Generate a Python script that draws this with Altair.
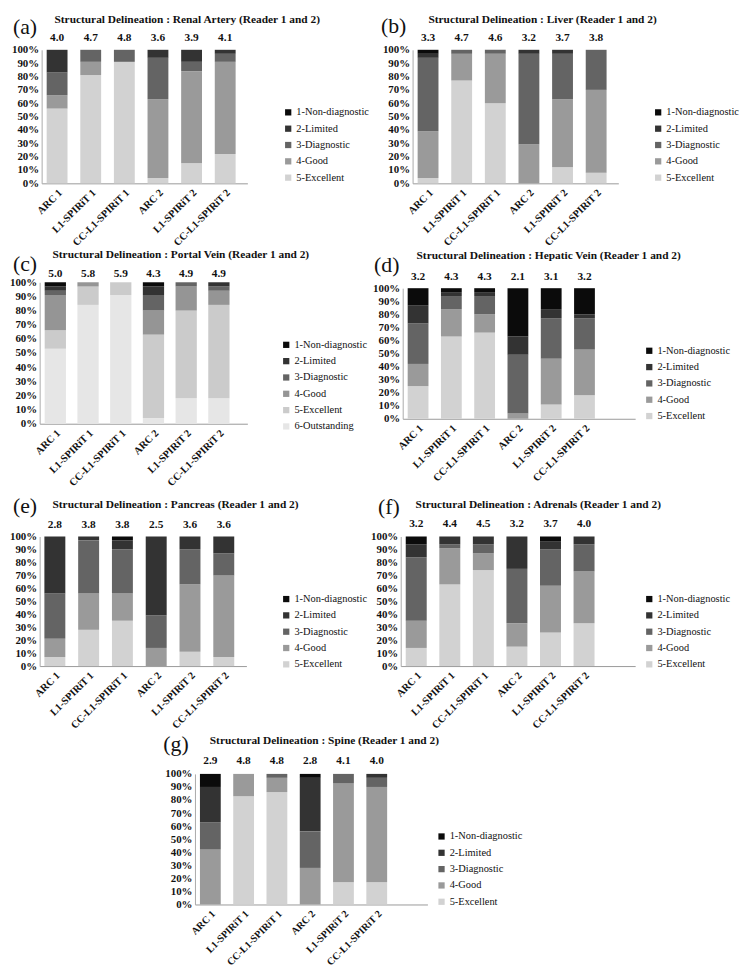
import altair as alt
import pandas as pd

FONT = "Liberation Serif"

cats = ["ARC 1", "L1-SPIRiT 1", "CC-L1-SPIRiT 1", "ARC 2", "L1-SPIRiT 2", "CC-L1-SPIRiT 2"]
grades5 = ["1-Non-diagnostic", "2-Limited", "3-Diagnostic", "4-Good", "5-Excellent"]
grades6 = ["1-Non-diagnostic", "2-Limited", "3-Diagnostic", "4-Good", "5-Excellent", "6-Outstanding"]
colors5 = ["#0b0b0b", "#333333", "#646464", "#9a9a9a", "#d2d2d2"]
colors6 = ["#0b0b0b", "#333333", "#646464", "#959595", "#cbcbcb", "#e6e6e6"]

# percentages per category, listed from the bottom segment (best grade) to the top (worst grade)
renal_vals = [[56, 10, 17, 17, 0], [81, 10, 9, 0, 0], [91, 0, 9, 0, 0],
              [4, 59, 31, 6, 0], [15, 69, 7, 9, 0], [22, 69, 6, 3, 0]]
renal_scores = ["4.0", "4.7", "4.8", "3.6", "3.9", "4.1"]

liver_vals = [[4, 35, 55, 3, 3], [77, 20, 3, 0, 0], [60, 37, 3, 0, 0],
              [0, 29, 68, 3, 0], [12, 51, 34, 3, 0], [8, 62, 30, 0, 0]]
liver_scores = ["3.3", "4.7", "4.6", "3.2", "3.7", "3.8"]

portal_vals = [[53, 13, 25, 3, 3, 3], [84, 13, 3, 0, 0, 0], [91, 9, 0, 0, 0, 0],
               [4, 59, 17, 11, 6, 3], [18, 62, 17, 3, 0, 0], [18, 66, 10, 3, 3, 0]]
portal_scores = ["5.0", "5.8", "5.9", "4.3", "4.9", "4.9"]

hepatic_vals = [[25, 17, 31, 14, 13], [63, 21, 10, 3, 3], [66, 14, 14, 3, 3],
                [0, 4, 45, 14, 37], [11, 35, 31, 7, 16], [18, 35, 24, 3, 20]]
hepatic_scores = ["3.2", "4.3", "4.3", "2.1", "3.1", "3.2"]

pancreas_vals = [[7, 14, 35, 44, 0], [28, 28, 41, 3, 0], [35, 21, 34, 7, 3],
                 [0, 14, 25, 61, 0], [11, 52, 27, 10, 0], [7, 63, 17, 13, 0]]
pancreas_scores = ["2.8", "3.8", "3.8", "2.5", "3.6", "3.6"]

adrenal_vals = [[14, 21, 49, 10, 6], [63, 28, 3, 6, 0], [74, 13, 7, 6, 0],
                [15, 18, 42, 25, 0], [26, 36, 28, 6, 4], [33, 40, 21, 6, 0]]
adrenal_scores = ["3.2", "4.4", "4.5", "3.2", "3.7", "4.0"]

spine_vals = [[0, 42, 21, 27, 10], [83, 17, 0, 0, 0], [86, 11, 3, 0, 0],
              [0, 28, 28, 41, 3], [17, 76, 7, 0, 0], [17, 73, 7, 3, 0]]
spine_scores = ["2.9", "4.8", "4.8", "2.8", "4.1", "4.0"]


def panel(letter, title, values, scores, grades, colors,
          ox, oy, pw, ph, vw, pi, po, al, lpos, tpos, sy, lgx=244, xfs=10.5):
    n = len(grades)
    rows = []
    for ci, cat in enumerate(cats):
        for k, v in enumerate(values[ci]):
            if v > 0:
                rows.append({"cat": cat, "grade": grades[n - 1 - k], "value": v, "ord": k})
    df = pd.DataFrame(rows)
    sdf = pd.DataFrame({"cat": cats, "score": scores})

    xscale = alt.Scale(domain=cats, range=[ox, ox + pw], paddingInner=pi,
                       paddingOuter=po, align=al)
    bars = alt.Chart(df).mark_bar().encode(
        x=alt.X("cat:N", scale=xscale, title=None,
                axis=alt.Axis(labelAngle=-45, labelAlign="right", labelBaseline="top",
                              labelFont=FONT, labelFontWeight="bold", labelFontSize=xfs,
                              labelColor="#111111", labelPadding=4, ticks=False,
                              domainColor="#999999", labelOverlap=False, grid=False)),
        y=alt.Y("value:Q", stack="zero", title=None,
                scale=alt.Scale(domain=[0, 100], range=[oy + ph, oy], nice=False),
                axis=alt.Axis(values=list(range(0, 101, 10)), labelExpr="datum.value + '%'",
                              offset=-ox, labelFont=FONT, labelFontWeight="bold",
                              labelFontSize=11, labelColor="#111111", labelPadding=3,
                              ticks=False, grid=False, domainColor="#aaaaaa",
                              labelOverlap=False)),
        color=alt.Color("grade:N", scale=alt.Scale(domain=grades, range=colors),
                        legend=alt.Legend(orient="none", legendX=ox + lgx, legendY=oy + 58,
                                          title=None, symbolType="square", symbolSize=40,
                                          symbolStrokeWidth=0, labelFont=FONT,
                                          labelFontSize=10.5, labelColor="#111111",
                                          rowPadding=5.5, padding=0, labelOffset=3)),
        order=alt.Order("ord:Q", sort="ascending"),
    )
    score_text = alt.Chart(sdf).mark_text(
        font=FONT, fontWeight="bold", fontSize=11.5, color="#111111", baseline="middle"
    ).encode(x=alt.X("cat:N", scale=xscale, title=None), y=alt.value(oy + sy), text="score:N")
    letter_text = alt.Chart(pd.DataFrame({"t": [letter]})).mark_text(
        font=FONT, fontSize=22, color="#111111", align="left", baseline="middle"
    ).encode(x=alt.value(ox + lpos[0]), y=alt.value(oy + lpos[1]), text="t:N")
    title_text = alt.Chart(pd.DataFrame({"t": [title]})).mark_text(
        font=FONT, fontSize=11.5, fontWeight="bold", color="#111111", align="left",
        baseline="middle"
    ).encode(x=alt.value(ox + tpos[0]), y=alt.value(oy + tpos[1]), text="t:N")
    return alt.layer(bars, score_text, letter_text, title_text).properties(
        width=vw, height=oy + ph)


pa = panel("(a)", "Structural Delineation : Renal Artery (Reader 1 and 2)", renal_vals,
           renal_scores, grades5, colors5, 2, 0, 208, 135, 365, 0.38, 0.25, 0.3,
           (-29, -23), (13, -30), -12)
pb = panel("(b)", "Structural Delineation : Liver (Reader 1 and 2)", liver_vals,
           liver_scores, grades5, colors5, 12, 0, 208, 135, 335, 0.38, 0.25, 0.3,
           (-32, -24), (16, -30), -12, lgx=243)
pc = panel("(c)", "Structural Delineation : Portal Vein (Reader 1 and 2)", portal_vals,
           portal_scores, grades6, colors6, 0, 0, 210, 143, 365, 0.35, 0.35, 0.22,
           (-27, -18), (13, -28), -8)
pd_ = panel("(d)", "Structural Delineation : Hepatic Vein (Reader 1 and 2)", hepatic_vals,
            hepatic_scores, grades5, colors5, 2, 6, 235, 132, 335, 0.375, 0.68, 0.11,
            (-29, -23), (14, -33), -11, lgx=244)
pe = panel("(e)", "Structural Delineation : Pancreas (Reader 1 and 2)", pancreas_vals,
           pancreas_scores, grades5, colors5, 0, 14, 209, 131, 365, 0.38, 0.25, 0.28,
           (-27, -31), (13, -32), -12)
pf = panel("(f)", "Structural Delineation : Adrenals (Reader 1 and 2)", adrenal_vals,
           adrenal_scores, grades5, colors5, 0, 14, 237, 131, 335, 0.375, 0.68, 0.11,
           (-23, -30), (15, -32), -13, lgx=246)
pg = panel("(g)", "Structural Delineation : Spine (Reader 1 and 2)", spine_vals,
           spine_scores, grades5, colors5, 157, 9, 235, 132, 365, 0.375, 0.68, 0.11,
           (-32, -30), (15, -33), -13, xfs=10.2)

chart = alt.concat(pa, pb, pc, pd_, pe, pf, pg, columns=2,
                   spacing=alt.RowColnumber(row=100, column=0),
                   bounds="flush", align="each").resolve_scale(
    x="independent", y="independent", color="independent"
).resolve_legend(color="independent").properties(
    autosize=alt.AutoSizeParams(type="none"),
    padding={"left": 32, "top": 37, "right": 710, "bottom": 927},
).configure_view(stroke=None).configure_legend(labelFont=FONT).configure_text(font=FONT)

chart.save("out.html", embed_options={"renderer": "svg", "actions": False})
